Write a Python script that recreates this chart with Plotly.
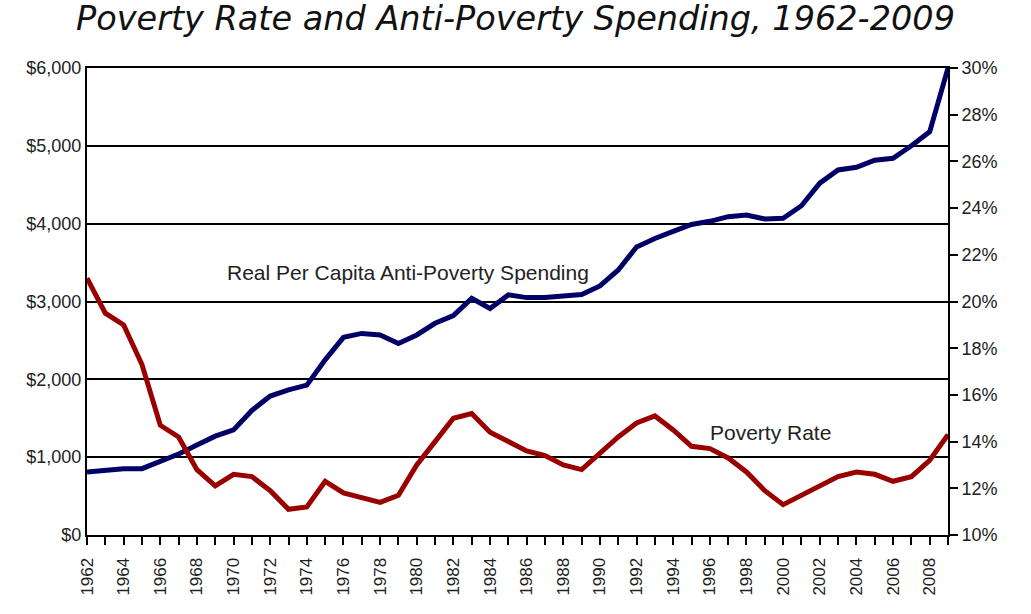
import plotly.graph_objects as go

# Dados
anos = list(range(1962, 2010))

gasto_per_capita = [
    810, 835, 850, 852, 940, 1040, 1155, 1270, 1350, 1600,
    1785, 1865, 1925, 2250, 2540, 2590, 2570, 2460, 2570, 2720,
    2820, 3040, 2910, 3085, 3050, 3050, 3070, 3090, 3200, 3405,
    3700, 3810, 3900, 3990, 4030, 4090, 4110, 4060, 4070, 4230,
    4520, 4690, 4725, 4815, 4840, 5000, 5180, 6000,
]

taxa_pobreza = [
    21.0, 19.5, 19.0, 17.3, 14.7, 14.2, 12.8, 12.1, 12.6, 12.5,
    11.9, 11.1, 11.2, 12.3, 11.8, 11.6, 11.4, 11.7, 13.0, 14.0,
    15.0, 15.2, 14.4, 14.0, 13.6, 13.4, 13.0, 12.8, 13.5, 14.2,
    14.8, 15.1, 14.5, 13.8, 13.7, 13.3, 12.7, 11.9, 11.3, 11.7,
    12.1, 12.5, 12.7, 12.6, 12.3, 12.5, 13.2, 14.3,
]

rotulos_anos = list(range(1962, 2010, 2))

fig = go.Figure()

fig.add_trace(go.Scatter(x=anos, y=gasto_per_capita, mode='lines',
                         line=dict(color='#000066', width=5), yaxis='y',
                         name='Real Per Capita Anti-Poverty Spending'))
fig.add_trace(go.Scatter(x=anos, y=taxa_pobreza, mode='lines',
                         line=dict(color='#990000', width=5), yaxis='y2',
                         name='Poverty Rate'))

fig.add_annotation(x=1979.5, y=3370, xref='x', yref='y', showarrow=False,
                   text='Real Per Capita Anti-Poverty Spending',
                   font=dict(size=21, color='#222222'))
fig.add_annotation(x=1999.3, y=1320, xref='x', yref='y', showarrow=False,
                   text='Poverty Rate', font=dict(size=21, color='#222222'))

fig.update_layout(
    width=1031, height=614,
    paper_bgcolor='white', plot_bgcolor='white',
    showlegend=False,
    font=dict(family='Liberation Sans, Arial, sans-serif', size=18, color='#222222'),
    title=dict(text='Poverty Rate and Anti-Poverty Spending, 1962-2009',
               x=0.5, xanchor='center', y=0.971, yanchor='middle',
               font=dict(family='DejaVu Sans', size=33.5, style='italic', color='#111111')),
    margin=dict(l=87, r=83, t=68, b=79),
    xaxis=dict(
        range=[1962, 2009], showgrid=False, zeroline=False, automargin=False,
        showline=True, linecolor='black', linewidth=2, mirror=True,
        tickvals=rotulos_anos, ticktext=[str(a) for a in rotulos_anos],
        tickangle=-90, ticks='outside', ticklen=8, tickwidth=2, tickcolor='black',
        tickfont=dict(size=17), ticklabelstandoff=6,
        minor=dict(dtick=1, tick0=1962, ticks='outside', ticklen=8,
                   tickwidth=2, tickcolor='black', showgrid=False),
    ),
    yaxis=dict(
        range=[0, 6000], dtick=1000, tickprefix='$', tickformat=',',
        showgrid=True, gridcolor='black', gridwidth=2, zeroline=False,
        showline=True, linecolor='black', linewidth=2, automargin=False,
        ticks='', tickfont=dict(size=18),
    ),
    yaxis2=dict(
        range=[10, 30], dtick=2, ticksuffix='%', overlaying='y', side='right',
        showgrid=False, zeroline=False, automargin=False,
        showline=True, linecolor='black', linewidth=2,
        ticks='outside', ticklen=8, tickwidth=2, tickcolor='black',
        tickfont=dict(size=18),
    ),
)

# remove a margem padrão do <body> para o gráfico encostar no canto da janela
fig.write_html('out.html', config={'displayModeBar': False},
               post_script="document.body.style.margin='0';")
